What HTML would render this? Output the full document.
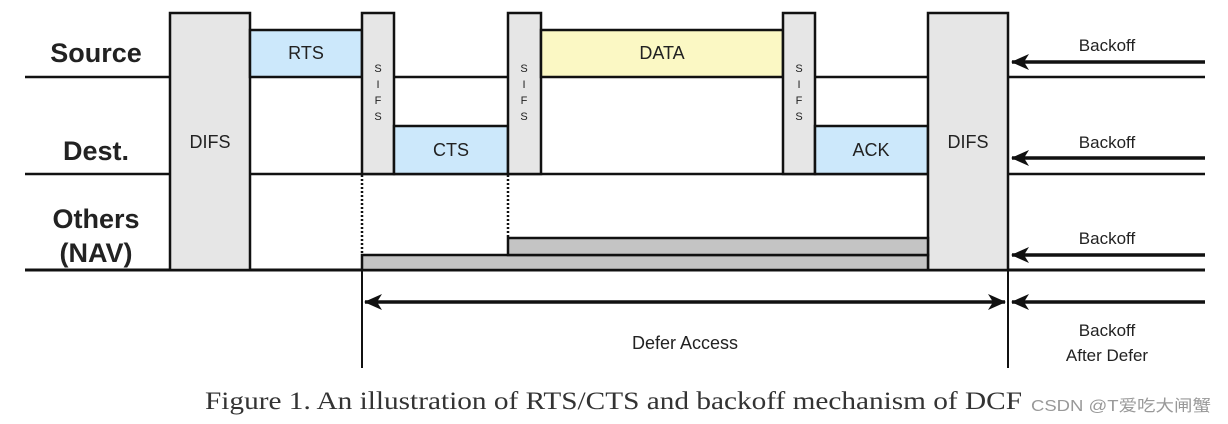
<!DOCTYPE html>
<html><head><meta charset="utf-8"><style>
html,body{margin:0;padding:0;background:#fff;}
svg{display:block;}
text{font-family:"Liberation Sans",sans-serif;fill:#222;}
</style></head><body>
<svg width="1228" height="424" viewBox="0 0 1228 424" xmlns="http://www.w3.org/2000/svg">
<defs>
<marker id="ah" markerWidth="18" markerHeight="18" refX="17" refY="8" orient="auto" markerUnits="userSpaceOnUse">
<path d="M0,0 L18,8 L0,16 L5,8 Z" fill="#111"/>
</marker>
</defs>
<g stroke="#111" stroke-width="2.5" fill="none">
<line x1="25" y1="77" x2="170" y2="77"/>
<line x1="394" y1="77" x2="508" y2="77"/>
<line x1="815" y1="77" x2="928" y2="77"/>
<line x1="1008" y1="77" x2="1205" y2="77"/>
<line x1="25" y1="174" x2="170" y2="174"/>
<line x1="250" y1="174" x2="928" y2="174"/>
<line x1="1008" y1="174" x2="1205" y2="174"/>
<line x1="25" y1="270" x2="1205" y2="270" stroke-width="3"/>
</g>
<g stroke="#111" stroke-width="2.5">
<rect x="170" y="13" width="80" height="257" fill="#e6e6e6"/>
<rect x="250" y="30" width="112" height="47" fill="#cce8fb"/>
<rect x="362" y="13" width="32" height="161" fill="#e6e6e6"/>
<rect x="394" y="126" width="114" height="48" fill="#cce8fb"/>
<rect x="508" y="13" width="33" height="161" fill="#e6e6e6"/>
<rect x="541" y="30" width="242" height="47" fill="#fbf8c4"/>
<rect x="783" y="13" width="32" height="161" fill="#e6e6e6"/>
<rect x="815" y="126" width="113" height="48" fill="#cce8fb"/>
<rect x="928" y="13" width="80" height="257" fill="#e6e6e6"/>
<rect x="362" y="255" width="566" height="15" fill="#c4c4c4"/>
<rect x="508" y="238" width="420" height="17" fill="#c4c4c4"/>
</g>
<g stroke="#111" stroke-width="2.5" stroke-dasharray="2,2">
<line x1="362" y1="175" x2="362" y2="255"/>
<line x1="508" y1="175" x2="508" y2="238"/>
</g>
<g stroke="#111" stroke-width="2">
<line x1="362" y1="270" x2="362" y2="368"/>
<line x1="1008" y1="270" x2="1008" y2="368"/>
</g>
<g stroke="#111" stroke-width="3.5">
<line x1="1205" y1="62" x2="1012" y2="62" marker-end="url(#ah)"/>
<line x1="1205" y1="158" x2="1012" y2="158" marker-end="url(#ah)"/>
<line x1="1205" y1="255" x2="1012" y2="255" marker-end="url(#ah)"/>
<line x1="1205" y1="302" x2="1012" y2="302" marker-end="url(#ah)"/>
<line x1="685" y1="302" x2="1005" y2="302" marker-end="url(#ah)"/>
<line x1="685" y1="302" x2="365" y2="302" marker-end="url(#ah)"/>
</g>
<g font-weight="bold" font-size="27" text-anchor="middle">
<text x="96" y="62">Source</text>
<text x="96" y="160">Dest.</text>
<text x="96" y="228">Others</text>
<text x="96" y="262">(NAV)</text>
</g>
<g font-size="18" text-anchor="middle" fill="#333">
<text x="210" y="148">DIFS</text>
<text x="968" y="148">DIFS</text>
<text x="306" y="59">RTS</text>
<text x="451" y="156">CTS</text>
<text x="662" y="59">DATA</text>
<text x="871" y="156">ACK</text>
<text x="1107" y="51" font-size="17">Backoff</text>
<text x="1107" y="148" font-size="17">Backoff</text>
<text x="1107" y="244" font-size="17">Backoff</text>
<text x="1107" y="336" font-size="17">Backoff</text>
<text x="1107" y="361" font-size="17">After Defer</text>
<text x="685" y="349" font-size="18">Defer Access</text>
</g>
<g font-size="11" text-anchor="middle" fill="#555">
<text x="378" y="72">S</text><text x="378" y="88">I</text><text x="378" y="104">F</text><text x="378" y="120">S</text>
<text x="524" y="72">S</text><text x="524" y="88">I</text><text x="524" y="104">F</text><text x="524" y="120">S</text>
<text x="799" y="72">S</text><text x="799" y="88">I</text><text x="799" y="104">F</text><text x="799" y="120">S</text>
</g>
<text x="205" y="409" font-size="25" textLength="817" lengthAdjust="spacingAndGlyphs" style="font-family:'Liberation Serif',serif;fill:#333">Figure 1. An illustration of RTS/CTS and backoff mechanism of DCF</text>
<text x="1031" y="411" font-size="16" textLength="180" lengthAdjust="spacingAndGlyphs" style="font-family:'Liberation Sans','Noto Sans CJK SC',sans-serif;fill:#999">CSDN @T爱吃大闸蟹</text>
</svg>
</body></html>
